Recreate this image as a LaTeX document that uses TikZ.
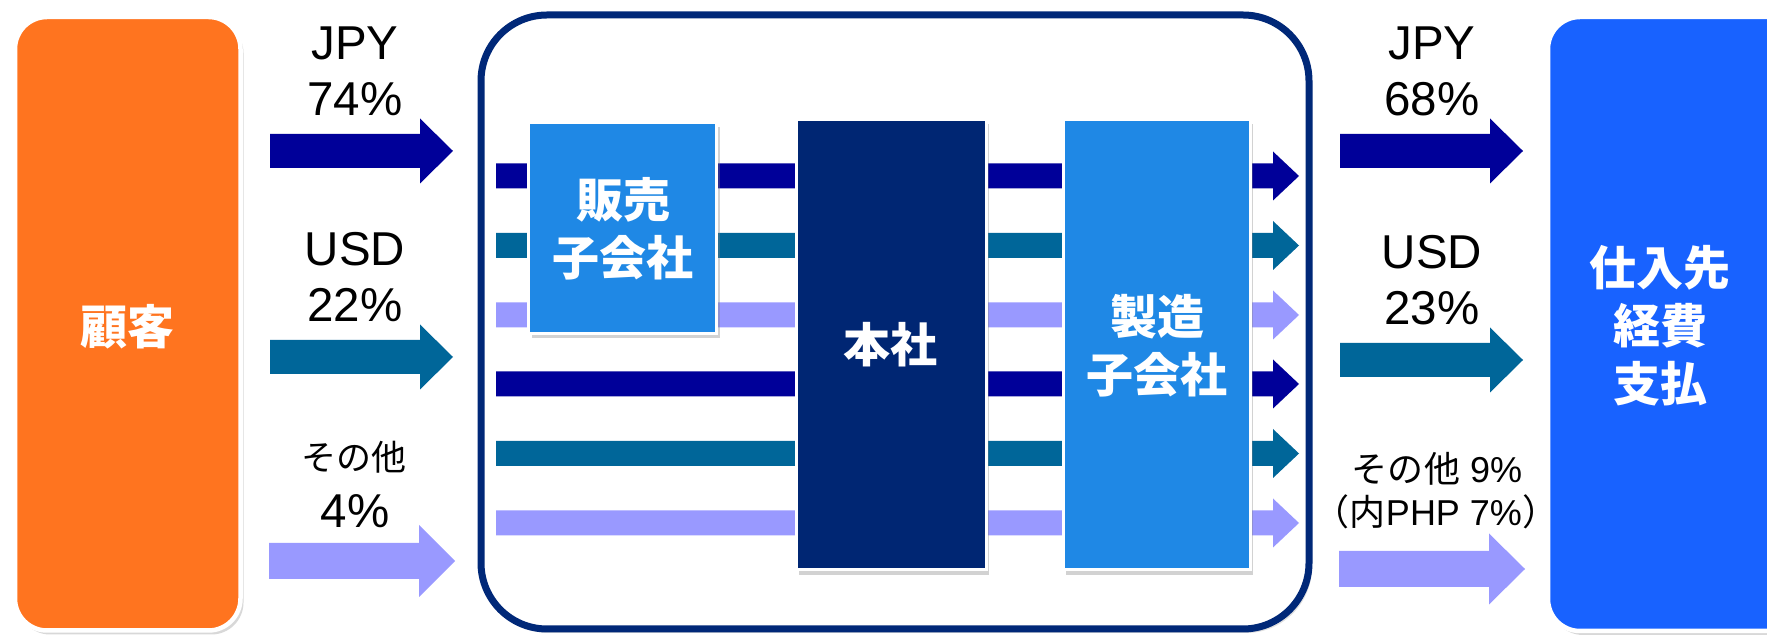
\documentclass[tikz,border=0pt]{standalone}
\usepackage{fontspec}
\setmainfont{Liberation Sans}
\newfontfamily\cjk{Noto Sans CJK JP}
\usetikzlibrary{shadows,fit}
\definecolor{cOrange}{RGB}{255,116,31}
\definecolor{cJPY}{RGB}{0,0,153}
\definecolor{cUSD}{RGB}{0,102,153}
\definecolor{cOth}{RGB}{153,153,255}
\definecolor{cNavy}{RGB}{0,40,120}
\definecolor{cHQ}{RGB}{0,38,115}
\definecolor{cSub}{RGB}{31,136,229}
\definecolor{cSup}{RGB}{24,98,255}
% #1 start x, #2 head base x, #3 tip x, #4 centre y, #5 shaft half, #6 head half, #7 colour
\newcommand\flowarrow[7]{\fill[#7] (#1,{#4-#5}) -- (#2,{#4-#5}) -- (#2,{#4-#6}) -- (#3,#4) -- (#2,{#4+#6}) -- (#2,{#4+#5}) -- (#1,{#4+#5}) -- cycle;}
\begin{document}
\begin{tikzpicture}[x=0.5pt,y=-0.5pt,
  bigbox/.style={draw=white, line width=2.25pt, rounded corners=16pt, inner sep=0pt,
    drop shadow={opacity=0.3, shadow xshift=1.5pt, shadow yshift=-2pt}},
  unitbox/.style={draw=white, line width=1.5pt, inner sep=0pt,
    drop shadow={opacity=0.35, shadow xshift=1.5pt, shadow yshift=-2.5pt}},
  boxtxt/.style={text=white, align=center, inner sep=0pt,
    font=\cjk\bfseries\fontsize{23.5}{29}\selectfont},
  lbl/.style={anchor=base, inner sep=0pt, font=\fontsize{23.75}{28}\selectfont},
  lblj/.style={anchor=base, inner sep=0pt, font=\fontsize{17.5}{20}\selectfont}]
\useasboundingbox (0,0) rectangle (1767,635);
\fill[white] (0,0) rectangle (1767,635);

% outer boxes
\node[bigbox, fill=cOrange, fit={(15,17) (240.5,630.5)}] (cust) {};
\node[boxtxt] (custtxt) at (127,327) {顧客};
\node[bigbox, fill=cSup, fit={(1548,17) (1800,631)}] (sup) {};
\node[boxtxt] (suptxt) at (1660,326) {仕入先\\経費\\支払};

% group container
\node[fit={(481,15) (1309,629)}, inner sep=0pt, draw=cNavy, line width=3.5pt,
  rounded corners=33pt, fill=white,
  drop shadow={opacity=0.25, shadow xshift=1.5pt, shadow yshift=-2pt}] (grp) {};

% inner flows
\flowarrow{496}{1273}{1299}{176}{12.5}{24.5}{cJPY}
\flowarrow{496}{1273}{1299}{245.5}{12.5}{24.5}{cUSD}
\flowarrow{496}{1273}{1299}{315}{12.5}{24.5}{cOth}
\flowarrow{496}{1273}{1299}{384}{12.5}{24.5}{cJPY}
\flowarrow{496}{1273}{1299}{453.5}{12.5}{24.5}{cUSD}
\flowarrow{496}{1273}{1299}{523}{12.5}{24.5}{cOth}

% units
\node[unitbox, fill=cSub, fit={(528.5,122.5) (716.5,333.5)}] (sales) {};
\node[boxtxt] (salestxt) at (623,229) {販売\\子会社};
\node[unitbox, fill=cHQ, fit={(796,119.5) (986,570)}] (hq) {};
\node[boxtxt] (hqtxt) at (890,345) {本社};
\node[unitbox, fill=cSub, fit={(1063,119.5) (1250,570)}] (mfg) {};
\node[boxtxt] (mfgtxt) at (1157,345.5) {製造\\子会社};

% left flows
\flowarrow{270}{420}{453}{151}{17}{32.5}{cJPY}
\flowarrow{270}{420}{453}{357}{17}{32.5}{cUSD}
\flowarrow{269}{419}{455}{561}{18}{36}{cOth}
% right flows
\flowarrow{1340}{1490}{1523}{151}{17}{32.5}{cJPY}
\flowarrow{1340}{1490}{1523}{360}{17}{32.5}{cUSD}
\flowarrow{1339}{1489}{1525}{569}{18}{35.5}{cOth}

% labels left
\node[lbl] (l1a) at (355,60) {JPY};
\node[lbl] (l1b) at (355,116) {74\%};
\node[lbl] (l2a) at (355,266) {USD};
\node[lbl] (l2b) at (355,322) {22\%};
\node[lblj] (l3a) at (354,471) {\cjk その他};
\node[lbl] (l3b) at (355,528) {4\%};
% labels right
\node[lbl] (r1a) at (1432,60) {JPY};
\node[lbl] (r1b) at (1432,116) {68\%};
\node[lbl] (r2a) at (1432,269) {USD};
\node[lbl] (r2b) at (1432,325) {23\%};
\node[lblj, font=\fontsize{18}{20}\selectfont] (r3a) at (1437,483) {{\cjk その他} 9\%};
\node[lblj, font=\fontsize{18}{20}\selectfont] (r3b) at (1436,526) {{\cjk （内}PHP 7\%{\cjk ）}};
\end{tikzpicture}
\end{document}
